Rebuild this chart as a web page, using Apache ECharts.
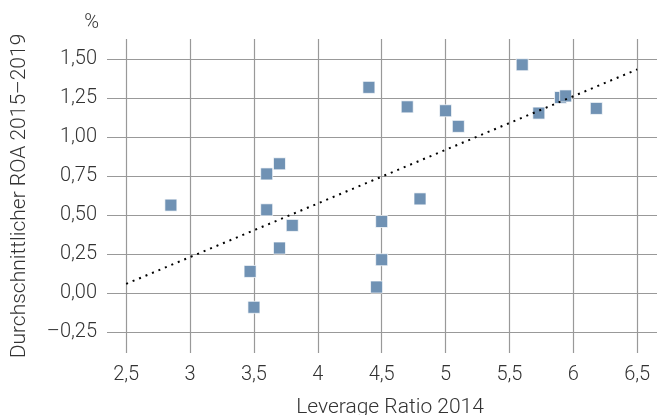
<!DOCTYPE html>
<html>
<head>
<meta charset="utf-8">
<script src="https://cdn.jsdelivr.net/npm/echarts@6/dist/echarts.min.js"></script>
<style>html,body{margin:0;padding:0;background:#fff;}#c{width:657px;height:415px;}</style>
</head>
<body>
<div id="c"></div>
<script>
// Leverage Ratio 2014 (x) vs. Durchschnittlicher ROA 2015–2019 in % (y)
const leverage = [2.85, 3.47, 3.50, 3.60, 3.60, 3.70, 3.70, 3.80, 4.40, 4.46, 4.50, 4.50, 4.70, 4.80, 5.00, 5.10, 5.60, 5.73, 5.90, 5.94, 6.18];
const roa      = [0.565, 0.14, -0.09, 0.765, 0.535, 0.83, 0.29, 0.435, 1.32, 0.04, 0.46, 0.215, 1.195, 0.605, 1.17, 1.07, 1.465, 1.155, 1.255, 1.265, 1.185];
const trendX = [2.5, 6.5];
const trendY = [0.06, 1.435];
const xTicks = [2.5, 3, 3.5, 4, 4.5, 5, 5.5, 6, 6.5];
const yTicks = [-0.25, 0, 0.25, 0.5, 0.75, 1, 1.25, 1.5];

const FONT = 'Roboto';
const TXT = '#333';
const FW = 300;
const fmt = (v, d) => {
  const s = Math.abs(v).toFixed(d).replace('.', ',');
  return (v < 0 ? '\u2013' : '') + s;
};

const chart = echarts.init(document.getElementById('c'), null, {renderer: 'canvas'});
chart.setOption({
  animation: false,
  backgroundColor: '#fff',
  grid: {left: 107, right: 0, top: 39, bottom: 62, containLabel: false, outerBoundsMode: 'none'},
  xAxis: {
    type: 'value', min: 2.35, max: 6.655,
    name: 'Leverage Ratio 2014', nameLocation: 'middle', nameGap: 44,
    nameTextStyle: {fontFamily: FONT, fontSize: 21, fontWeight: FW, color: TXT, padding: [0, 0, 0, 16]},
    axisLine: {show: false}, axisTick: {show: false, customValues: xTicks},
    axisLabel: {customValues: xTicks, formatter: v => Number.isInteger(v) ? String(v) : fmt(v, 1),
      fontFamily: FONT, fontSize: 20, fontWeight: FW, color: TXT, margin: 12},
    splitLine: {show: true, lineStyle: {color: '#999', width: 1.2}}
  },
  yAxis: {
    type: 'value', min: -0.383, max: 1.63,
    name: 'Durchschnittlicher ROA 2015\u20132019', nameLocation: 'middle', nameGap: 77,
    nameTextStyle: {fontFamily: FONT, fontSize: 21, fontWeight: FW, color: TXT},
    axisLine: {show: false}, axisTick: {show: false, customValues: yTicks},
    axisLabel: {customValues: yTicks, formatter: v => fmt(v, 2),
      fontFamily: FONT, fontSize: 20, fontWeight: FW, color: TXT, margin: 10},
    splitLine: {show: true, lineStyle: {color: '#999', width: 1.2}}
  },
  graphic: [{
    type: 'text', right: 657 - 99, top: 13,
    style: {text: '%', fontFamily: FONT, fontSize: 20, fontWeight: FW, fill: TXT}
  }],
  series: [{
    type: 'line',
    data: trendX.map((x, i) => [x, trendY[i]]),
    showSymbol: false, silent: true,
    lineStyle: {color: '#000', width: 2, type: [2, 5]},
    z: 3
  }, {
    type: 'scatter',
    data: leverage.map((x, i) => [x, roa[i]]),
    symbol: 'rect', symbolSize: 12,
    itemStyle: {color: '#7092b4', opacity: 1, borderColor: 'rgba(255,255,255,0.7)', borderWidth: 1},
    z: 2
  }]
});
</script>
</body>
</html>
